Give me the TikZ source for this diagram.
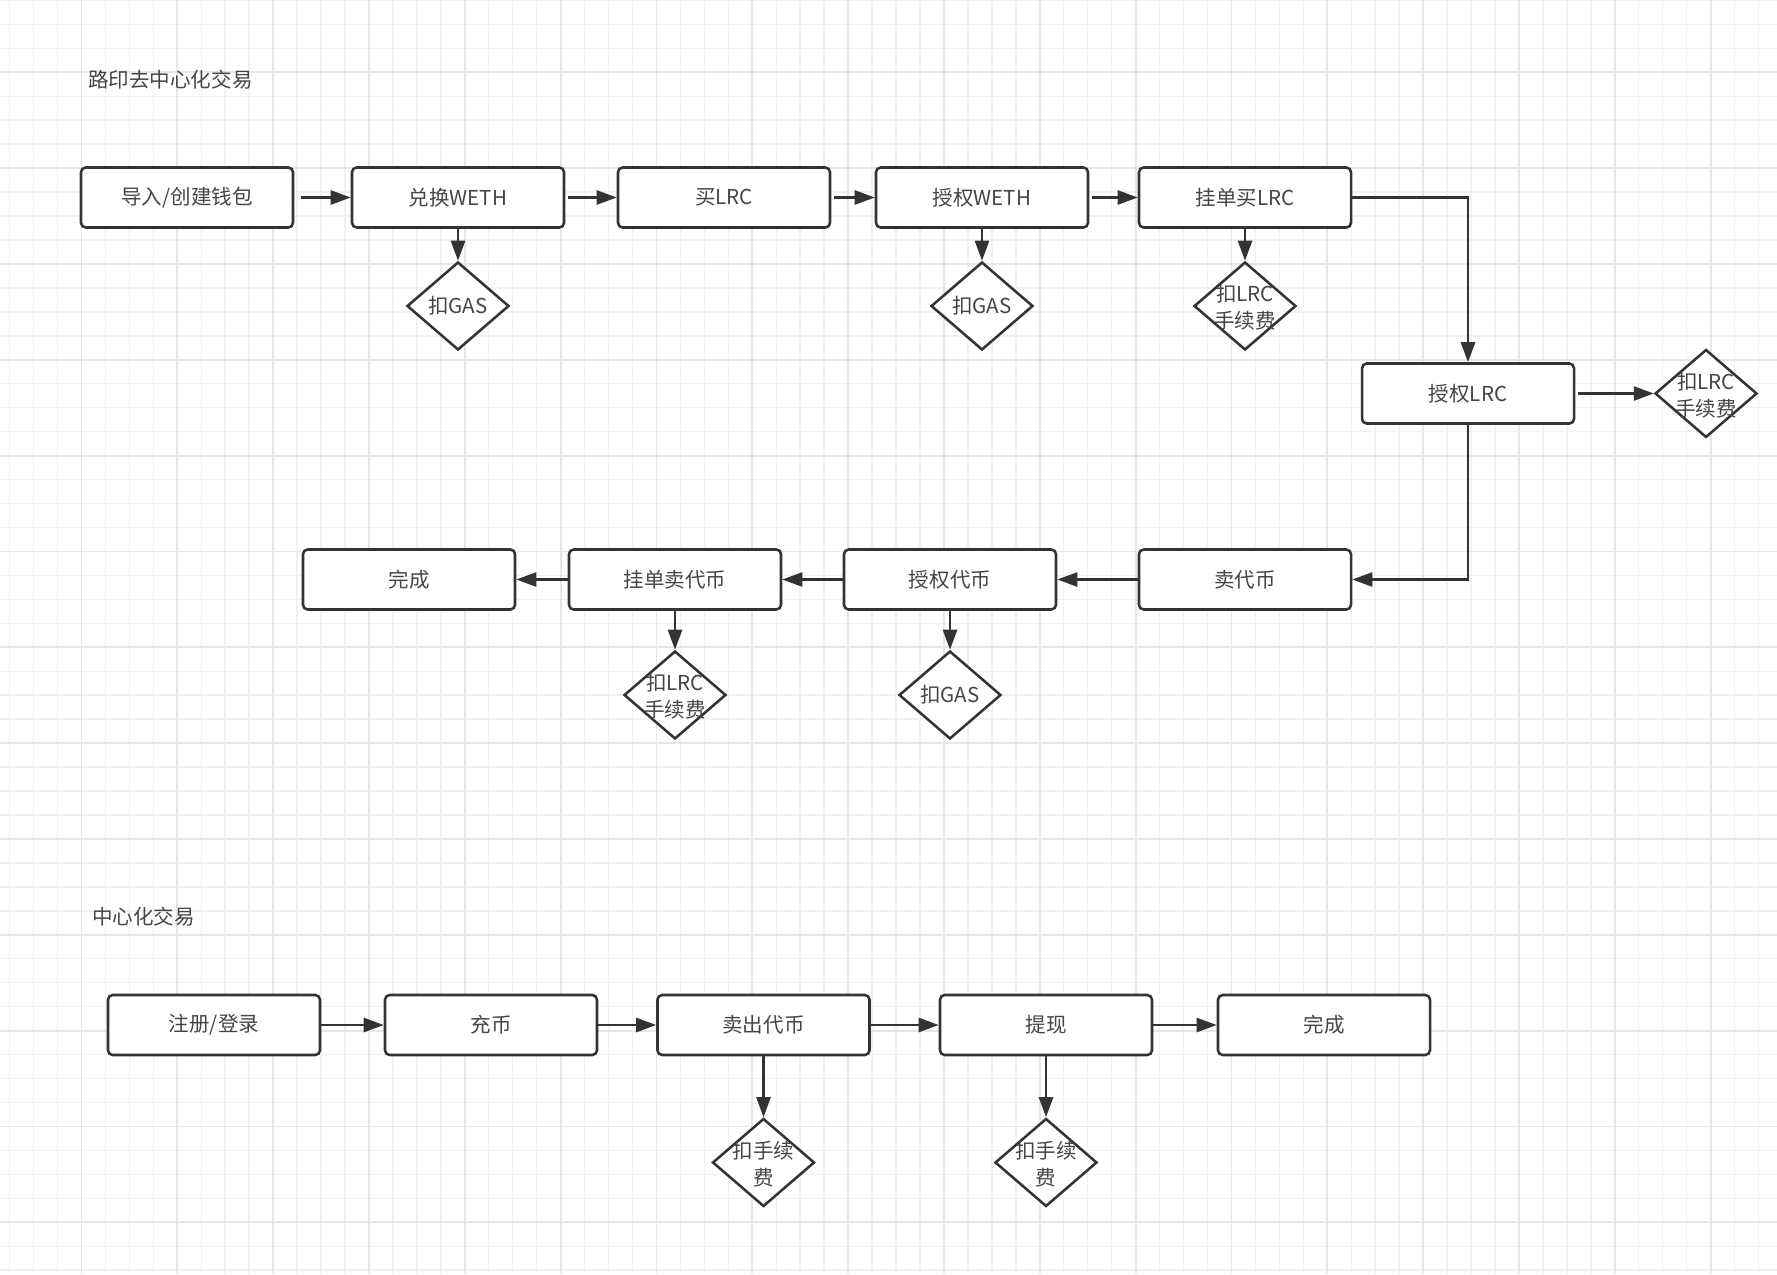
\documentclass[tikz,border=0pt]{standalone}
\usepackage{fontspec}
\setmainfont{Noto Sans CJK SC}
\usetikzlibrary{shapes.geometric,arrows.meta}
\definecolor{ink}{HTML}{333333}
\definecolor{txt}{HTML}{454545}
\definecolor{gridminor}{HTML}{F1F1F1}
\definecolor{gridmajor}{HTML}{E6E6E6}
\begin{document}
\begin{tikzpicture}[x=0.75pt,y=-0.75pt,
  every node/.style={font=\fontsize{15.4pt}{20.25pt}\selectfont, text=txt},
  box/.style={draw=ink, line width=1.9pt, rounded corners=3.5pt, fill=white,
    minimum width=159pt, minimum height=45pt, inner sep=0pt},
  dia/.style={draw=ink, line width=1.9pt, diamond, fill=white,
    minimum width=76.5pt, minimum height=66pt, inner sep=0pt},
  dtext/.style={align=center, inner sep=0pt},
  title/.style={anchor=west, inner sep=0pt},
  arr/.style={draw=ink, line width=1.9pt, -{Triangle[length=15pt,width=10.5pt]}},
  minorline/.style={draw=gridminor, line width=1.1pt},
  majorline/.style={draw=gridmajor, line width=1.3pt}]
% background and grid
\fill[white] (0,0) rectangle (1777,1274);
\useasboundingbox (0,0) rectangle (1777,1274);
\foreach \i in {0,...,73} {\draw[minorline] ({9.6+23.958*\i},0) -- ({9.6+23.958*\i},1274);}
\foreach \i in {0,...,53} {\draw[minorline] (0,{0.43+23.958*\i}) -- (1777,{0.43+23.958*\i});}
\foreach \i in {3,7,...,71} {\draw[majorline] ({9.6+23.958*\i},0) -- ({9.6+23.958*\i},1274);}
\foreach \i in {3,7,...,51} {\draw[majorline] (0,{0.43+23.958*\i}) -- (1777,{0.43+23.958*\i});}

% titles
\node[title] (t1) at (88,80) {路印去中心化交易};
\node[title] (t2) at (92,917) {中心化交易};

% row 1
\node[box] (b1) at (187,197.5) {导入/创建钱包};
\node[box] (b2) at (458,197.5) {兑换WETH};
\node[box] (b3) at (724,197.5) {买LRC};
\node[box] (b4) at (982,197.5) {授权WETH};
\node[box] (b5) at (1245,197.5) {挂单买LRC};
\node[dia] (d1) at (458,306) {};
\node[dtext] (d1t) at (d1) {扣GAS};
\node[dia] (d2) at (982,306) {};
\node[dtext] (d2t) at (d2) {扣GAS};
\node[dia] (d3) at (1245,306) {};
\node[dtext] (d3t) at (1245,307) {扣LRC\\手续费};

\node[box] (b6) at (1468,393.5) {授权LRC};
\node[dia] (d4) at (1706,393.5) {};
\node[dtext] (d4t) at (1706,395) {扣LRC\\手续费};

% row 2
\node[box] (b7) at (1245,579.5) {卖代币};
\node[box] (b8) at (950,579.5) {授权代币};
\node[box] (b9) at (675,579.5) {挂单卖代币};
\node[box] (b10) at (409,579.5) {完成};
\node[dia] (d5) at (675,695) {};
\node[dtext] (d5t) at (675,696) {扣LRC\\手续费};
\node[dia] (d6) at (950,695) {};
\node[dtext] (d6t) at (d6) {扣GAS};

% row 3
\node[box] (c1) at (214,1025) {注册/登录};
\node[box] (c2) at (491,1025) {充币};
\node[box] (c3) at (763.5,1025) {卖出代币};
\node[box] (c4) at (1046,1025) {提现};
\node[box] (c5) at (1324,1025) {完成};
\node[dia] (e1) at (763.5,1162.5) {};
\node[dtext] (e1t) at (763.5,1164) {扣手续\\费};
\node[dia] (e2) at (1046,1162.5) {};
\node[dtext] (e2t) at (1046,1164) {扣手续\\费};

% connectors row 1
\draw[arr, shorten <=5pt] (b1) -- (b2);
\draw[arr, shorten <=2pt] (b2) -- (b3);
\draw[arr, shorten <=2pt] (b3) -- (b4);
\draw[arr, shorten <=2pt] (b4) -- (b5);
\draw[arr] (b2) -- (d1);
\draw[arr] (b4) -- (d2);
\draw[arr] (b5) -- (d3);
\draw[arr] (b5.east) -| (b6.north);
\draw[arr, shorten <=2pt] (b6) -- (d4);
\draw[arr] (b6.south) |- (b7.east);
% row 2
\draw[arr] (b7) -- (b8);
\draw[arr] (b8) -- (b9);
\draw[arr] (b9) -- (b10);
\draw[arr] (b9) -- (d5);
\draw[arr] (b8) -- (d6);
% row 3
\draw[arr] (c1) -- (c2);
\draw[arr] (c2) -- (c3);
\draw[arr] (c3) -- (c4);
\draw[arr] (c4) -- (c5);
\draw[arr] (c3) -- (e1);
\draw[arr] (c4) -- (e2);
\end{tikzpicture}
\end{document}
